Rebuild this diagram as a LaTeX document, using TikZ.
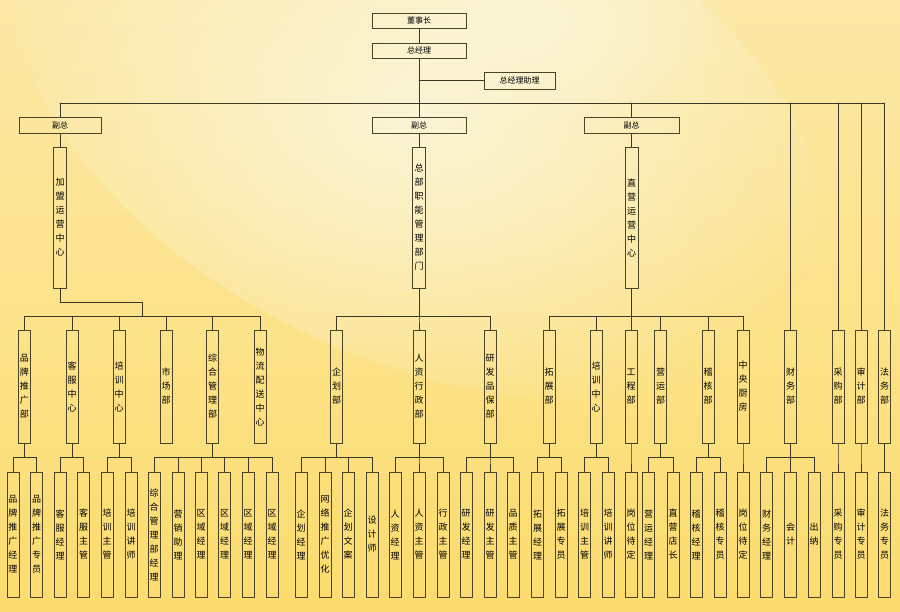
\documentclass[tikz,border=0pt]{standalone}
\usepackage{fontspec}
\setmainfont{Noto Sans CJK SC}
\XeTeXlinebreaklocale "zh"
\XeTeXlinebreakskip = 0pt plus 1pt
\usetikzlibrary{fadings}

\tikzfading[name=glow fade, inner color=transparent!0, outer color=transparent!100]

% parent node, y of the bus, list of children
\newcommand{\orgbranch}[3]{%
  \foreach \c in {#3}
    \draw[link] (#1.south) -- (#1.south |- 0,#2) -| (\c.north);
}

\begin{document}
\begin{tikzpicture}[x=1pt, y=-1pt, line cap=round,
		% Styles
		link/.style={draw=linecolor, line width=0.7pt},
		topbox/.style={draw=boxcolor, line width=0.8pt, minimum height=15pt, inner sep=0pt, font=\fontsize{8}{8}\selectfont},
		colbox/.style={draw=boxcolor, line width=0.8pt, minimum width=13pt, minimum height=141pt, inner sep=0pt, text width=10pt, align=center, font=\fontsize{9}{14}\selectfont},
		deptbox/.style={colbox, minimum width=12pt, minimum height=113pt},
		postbox/.style={colbox, minimum width=12pt, minimum height=125pt}
		]
		
		% Colors
		\definecolor{linecolor}{HTML}{3B3826}
		\definecolor{boxcolor}{HTML}{4A4428}
		\definecolor{bgtop}{HTML}{FCE9A8}
		\definecolor{bgbottom}{HTML}{FCDC6E}
		\definecolor{bgglow}{HTML}{FBF5D6}
		
		\useasboundingbox (0,0) rectangle (900,611);
		
		% Background
		\shade[top color=bgtop, bottom color=bgbottom] (0,0) rectangle (900,611);
		\fill[bgglow, path fading=glow fade, rotate around={-25:(420,110)}] (420,110) ellipse [x radius=430, y radius=250];
		\fill[bgglow, path fading=glow fade] (520,20) ellipse [x radius=200, y radius=110];
		
		% Top levels
		\node[topbox, minimum width=94pt] (chair) at (419,20.5) {董事长};
		\node[topbox, minimum width=94pt] (gm) at (419,50.5) {总经理};
		\node[topbox, minimum width=71pt, minimum height=17pt] (asst) at (519.5,80.5) {总经理助理};
		\node[topbox, minimum width=82pt, minimum height=16pt] (vpa) at (60,125) {副总};
		\node[topbox, minimum width=94pt, minimum height=16pt] (vpb) at (419,125) {副总};
		\node[topbox, minimum width=95pt, minimum height=16pt] (vpc) at (631.5,125) {副总};
		
		% Centres
		\node[colbox] (jm) at (60,217.5) {加盟运营中心};
		\node[colbox] (zb) at (419,217.5) {总部职能管理部门};
		\node[colbox] (zy) at (631.5,217.5) {直营运营中心};
		
		% Departments
		\foreach \n/\x/\t in {ppb/24.5/品牌推广部, kfzx/72/客服中心, pxzx/119/培训中心, scb/166/市场部,
			zhglb/212.5/综合管理部, wlps/260/物流配送中心, qhb/336.5/企划部, rzxz/419/人资行政部,
			yfpb/490/研发品保部, tzb/549/拓展部, pxzxb/596/培训中心, gcb/631/工程部, yyb/660.5/营运部,
			jhb/708/稽核部, zycf/743/中央厨房, cwb/790.5/财务部, cgb/838/采购部, sjb/861/审计部, fwb/884.5/法务部}
			\node[deptbox] (\n) at (\x,386.5) {\t};
		
		% Posts
		\foreach \n/\x/\t in {ppjl/13/品牌推广经理, ppzy/36.5/品牌推广专员, kfjl/60/客服经理, kfzg/83.5/客服主管,
			pxzg/107/培训主管, pxjs/131/培训讲师, zhjl/154/综合管理部经理, yxzl/178/营销助理,
			qya/201/区域经理, qyb/224.5/区域经理, qyc/248/区域经理, qyd/272/区域经理,
			qhjl/301/企划经理, wltg/325/网络推广优化, qhwa/348/企划文案, sjs/372/设计师,
			rzjl/395/人资经理, rzzg/419/人资主管, xzzg/443/行政主管, yfjl/466/研发经理, yfzg/490/研发主管,
			pzzg/513/品质主管, tzjl/537.5/拓展经理, tzzy/561/拓展专员, pxzgb/584.5/培训主管, pxjsb/608/培训讲师,
			gwdda/631/岗位待定, yyjl/648.5/营运经理, zydz/673/直营店长, jhjl/696/稽核经理, jhzy/720/稽核专员,
			gwddb/743/岗位待定, cwjl/766.5/财务经理, kj/790.5/会计, cn/814/出纳, cgzy/838/采购专员,
			sjzy/861/审计专员, fwzy/884.5/法务专员}
			\node[postbox] (\n) at (\x,534.5) {\t};
		
		% Connectors: top
		\draw[link] (chair) -- (gm);
		\draw[link] (gm) -- (vpb);
		\draw[link] (gm.south |- asst.west) -- (asst.west);
		\draw[link] (vpa.north |- 0,103) -- (fwb.north |- 0,103);
		\foreach \n in {vpa, vpc, cwb, cgb, sjb, fwb}
			\draw[link] (\n.north |- 0,103) -- (\n.north);
		\draw[link] (vpa) -- (jm);
		\draw[link] (vpb) -- (zb);
		\draw[link] (vpc) -- (zy);
		
		% Connectors: centres to departments
		\coordinate (jmbus) at (142,316);
		\draw[link] (jm.south) -- (jm.south |- 0,302) -| (jmbus);
		\foreach \c in {ppb, kfzx, pxzx, scb, zhglb, wlps}
			\draw[link] (jmbus) -| (\c.north);
		\orgbranch{zb}{316}{qhb, rzxz, yfpb}
		\orgbranch{zy}{316}{tzb, pxzxb, gcb, yyb, jhb, zycf}
		
		% Connectors: departments to posts
		\orgbranch{ppb}{457}{ppjl, ppzy}
		\orgbranch{kfzx}{457}{kfjl, kfzg}
		\orgbranch{pxzx}{457}{pxzg, pxjs}
		\orgbranch{zhglb}{457}{zhjl, yxzl, qya, qyb, qyc, qyd}
		\orgbranch{qhb}{457}{qhjl, wltg, qhwa, sjs}
		\orgbranch{rzxz}{457}{rzjl, rzzg, xzzg}
		\orgbranch{yfpb}{457}{yfjl, yfzg, pzzg}
		\orgbranch{tzb}{457}{tzjl, tzzy}
		\orgbranch{pxzxb}{457}{pxzgb, pxjsb}
		\orgbranch{gcb}{457}{gwdda}
		\orgbranch{yyb}{457}{yyjl, zydz}
		\orgbranch{jhb}{457}{jhjl, jhzy}
		\orgbranch{zycf}{457}{gwddb}
		\orgbranch{cwb}{457}{cwjl, kj, cn}
		\orgbranch{cgb}{457}{cgzy}
		\orgbranch{sjb}{457}{sjzy}
		\orgbranch{fwb}{457}{fwzy}
		
	\end{tikzpicture}
\end{document}
